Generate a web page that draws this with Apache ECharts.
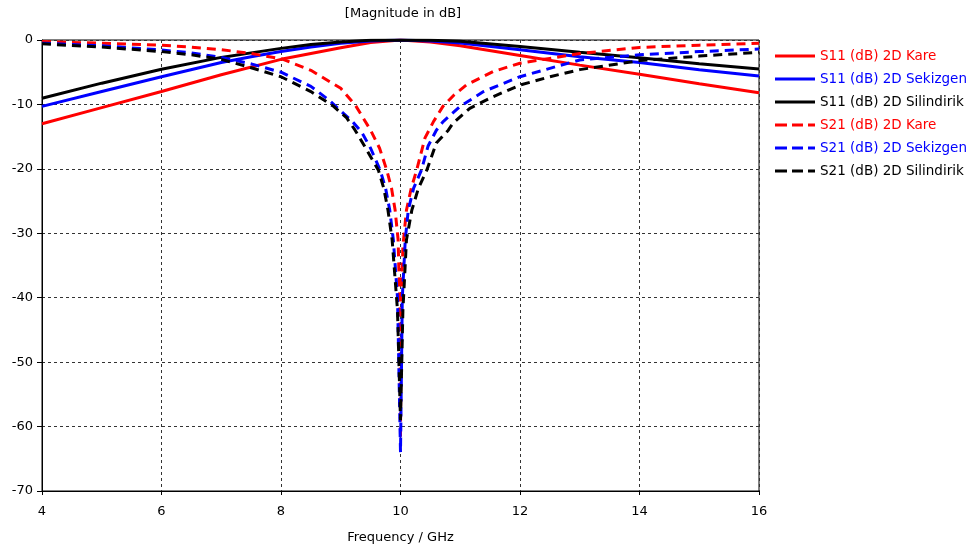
<!DOCTYPE html>
<html>
<head>
<meta charset="utf-8">
<script src="https://cdn.jsdelivr.net/npm/echarts@6/dist/echarts.min.js"></script>
<style>html,body{margin:0;padding:0;background:#fff}#c{width:972px;height:551px}</style>
</head>
<body>
<div id="c"></div>
<script>
// ---- data ----
const xTicks = [4, 6, 8, 10, 12, 14, 16];
const yTicks = [0, -10, -20, -30, -40, -50, -60, -70];

const s11KareFreq = [4, 5, 6, 7, 8, 8.5, 9, 9.5, 10, 10.5, 11, 12, 13, 14, 15, 16];
const s11KareDb   = [-13.0, -10.5, -8.0, -5.4, -3.0, -2.1, -1.2, -0.4, 0, -0.3, -0.9, -2.4, -3.9, -5.3, -6.8, -8.2];

const s11SekFreq = [4, 5, 6, 7, 7.5, 8, 8.5, 9, 9.5, 10, 10.5, 11, 12, 13, 14, 15, 16];
const s11SekDb   = [-10.3, -8.0, -5.7, -3.5, -2.6, -1.8, -1.1, -0.5, -0.15, 0, -0.15, -0.45, -1.5, -2.6, -3.5, -4.6, -5.6];

const s11SilFreq = [4, 5, 6, 7, 7.5, 8, 8.5, 9, 9.5, 10, 10.5, 11, 12, 13, 14, 15, 16];
const s11SilDb   = [-9.05, -6.7, -4.55, -2.7, -2.0, -1.3, -0.7, -0.3, -0.05, 0, -0.05, -0.2, -1.0, -1.9, -2.75, -3.7, -4.5];

const s21KareFreq = [4, 5, 6, 6.5, 7, 7.5, 8, 8.5, 9, 9.25, 9.5, 9.65, 9.77, 9.85, 9.91, 9.96, 9.99, 10.0, 10.01, 10.04, 10.1, 10.18, 10.27, 10.41, 10.55, 10.71, 10.9, 11.1, 11.55, 12, 12.5, 13, 14, 15, 16];
const s21KareDb   = [-0.25, -0.5, -0.8, -1.1, -1.5, -2.1, -2.9, -4.7, -7.5, -10.2, -14, -16.8, -20.2, -23, -26.4, -31, -42, -62, -42, -32, -26.4, -23, -20.2, -15.2, -12.7, -10.3, -8.5, -7.0, -4.9, -3.6, -2.85, -2.1, -1.15, -0.8, -0.5];

const s21SekFreq = [4, 5, 6, 6.5, 7, 7.5, 8, 8.5, 8.8, 9, 9.2, 9.35, 9.5, 9.66, 9.75, 9.82, 9.88, 9.95, 10.0, 10.03, 10.08, 10.13, 10.22, 10.35, 10.46, 10.6, 10.71, 11, 11.39, 12, 12.5, 13, 14, 15, 16];
const s21SekDb   = [-0.5, -0.9, -1.55, -2.0, -2.7, -3.7, -5.0, -7.2, -9.3, -11.0, -12.7, -14.3, -16.8, -20.2, -23, -26.4, -31, -40, -64, -40, -31, -26.4, -23, -20.2, -16.5, -14, -12.7, -10.3, -8.0, -5.7, -4.4, -3.1, -2.3, -1.8, -1.4];

const s21SilFreq = [4, 5, 6, 6.5, 7, 7.5, 8, 8.5, 8.88, 9.1, 9.24, 9.4, 9.63, 9.72, 9.79, 9.86, 9.95, 10.0, 10.04, 10.1, 10.19, 10.3, 10.44, 10.6, 10.8, 10.88, 11.16, 11.55, 12, 12.5, 13, 14, 15, 16];
const s21SilDb   = [-0.6, -1.1, -1.8, -2.3, -3.0, -4.3, -5.7, -8.0, -10.3, -12.1, -14, -16.5, -20.2, -23, -26.4, -31, -42, -59, -42, -31, -26.4, -23, -20.2, -16, -14, -12.9, -10.6, -8.8, -7.0, -5.7, -4.6, -3.2, -2.5, -1.9];

const seriesNames = [
  'S11 (dB) 2D Kare', 'S11 (dB) 2D Sekizgen', 'S11 (dB) 2D Silindirik',
  'S21 (dB) 2D Kare', 'S21 (dB) 2D Sekizgen', 'S21 (dB) 2D Silindirik'
];
const seriesColors = ['#ff0000', '#0000ff', '#000000', '#ff0000', '#0000ff', '#000000'];

// ---- build ----
const zip = (xs, ys) => xs.map((x, i) => [x, ys[i]]);
const seriesData = [
  zip(s11KareFreq, s11KareDb), zip(s11SekFreq, s11SekDb), zip(s11SilFreq, s11SilDb),
  zip(s21KareFreq, s21KareDb), zip(s21SekFreq, s21SekDb), zip(s21SilFreq, s21SilDb)
];
const FONT = 'DejaVu Sans';
const SOLID_ICON = 'path://M0,0h40v3h-40z';
const DASH_ICON = 'path://M0,0h12v3h-12z M17,0h11v3h-11z M33,0h7v3h-7z';

const chart = echarts.init(document.getElementById('c'), null, {renderer: 'canvas'});
chart.setOption({
  animation: false,
  backgroundColor: '#fff',
  textStyle: {fontFamily: FONT},
  title: {
    text: '[Magnitude in dB]',
    left: 403, top: 7, textAlign: 'center', padding: 0,
    textStyle: {fontFamily: FONT, fontSize: 13, fontWeight: 'normal', color: '#000'}
  },
  grid: {left: 42, right: 213, top: 40, bottom: 60, show: true, borderColor: '#000', borderWidth: 1, backgroundColor: 'transparent'},
  legend: {
    orient: 'vertical',
    left: 775, top: 49, padding: 0,
    itemWidth: 40, itemHeight: 3, itemGap: 9,
    data: seriesNames.map((n, i) => ({
      name: n,
      icon: i < 3 ? SOLID_ICON : DASH_ICON,
      itemStyle: {color: seriesColors[i]},
      textStyle: {color: seriesColors[i]}
    })),
    textStyle: {fontFamily: FONT, fontSize: 13.5},
    selectedMode: false
  },
  xAxis: {
    type: 'value', min: 4, max: 16, interval: 2,
    name: 'Frequency / GHz', nameLocation: 'middle', nameGap: 40,
    nameTextStyle: {fontFamily: FONT, fontSize: 13, color: '#000'},
    axisLine: {show: true, onZero: false, lineStyle: {color: '#000', width: 1}},
    axisTick: {show: true, length: 4, lineStyle: {color: '#000'}},
    axisLabel: {fontFamily: FONT, fontSize: 13, color: '#000', margin: 14,
      formatter: v => xTicks.includes(v) ? String(v) : ''},
    splitLine: {show: true, lineStyle: {color: '#333', type: [3, 3], width: 1}}
  },
  yAxis: {
    type: 'value', min: -70, max: 0, interval: 10,
    axisLine: {show: true, onZero: false, lineStyle: {color: '#000', width: 1}},
    axisTick: {show: true, length: 5, lineStyle: {color: '#000'}},
    axisLabel: {fontFamily: FONT, fontSize: 13, color: '#000', margin: 9,
      formatter: v => yTicks.includes(v) ? String(v) : ''},
    splitLine: {show: true, lineStyle: {color: '#333', type: [3, 3], width: 1}}
  },
  series: seriesData.map((d, i) => ({
    name: seriesNames[i],
    type: 'line',
    data: d,
    symbol: 'none',
    smooth: false,
    z: 2 + i,
    color: seriesColors[i],
    lineStyle: {color: seriesColors[i], width: 3, type: i < 3 ? 'solid' : [9, 6]}
  }))
});
</script>
</body>
</html>
